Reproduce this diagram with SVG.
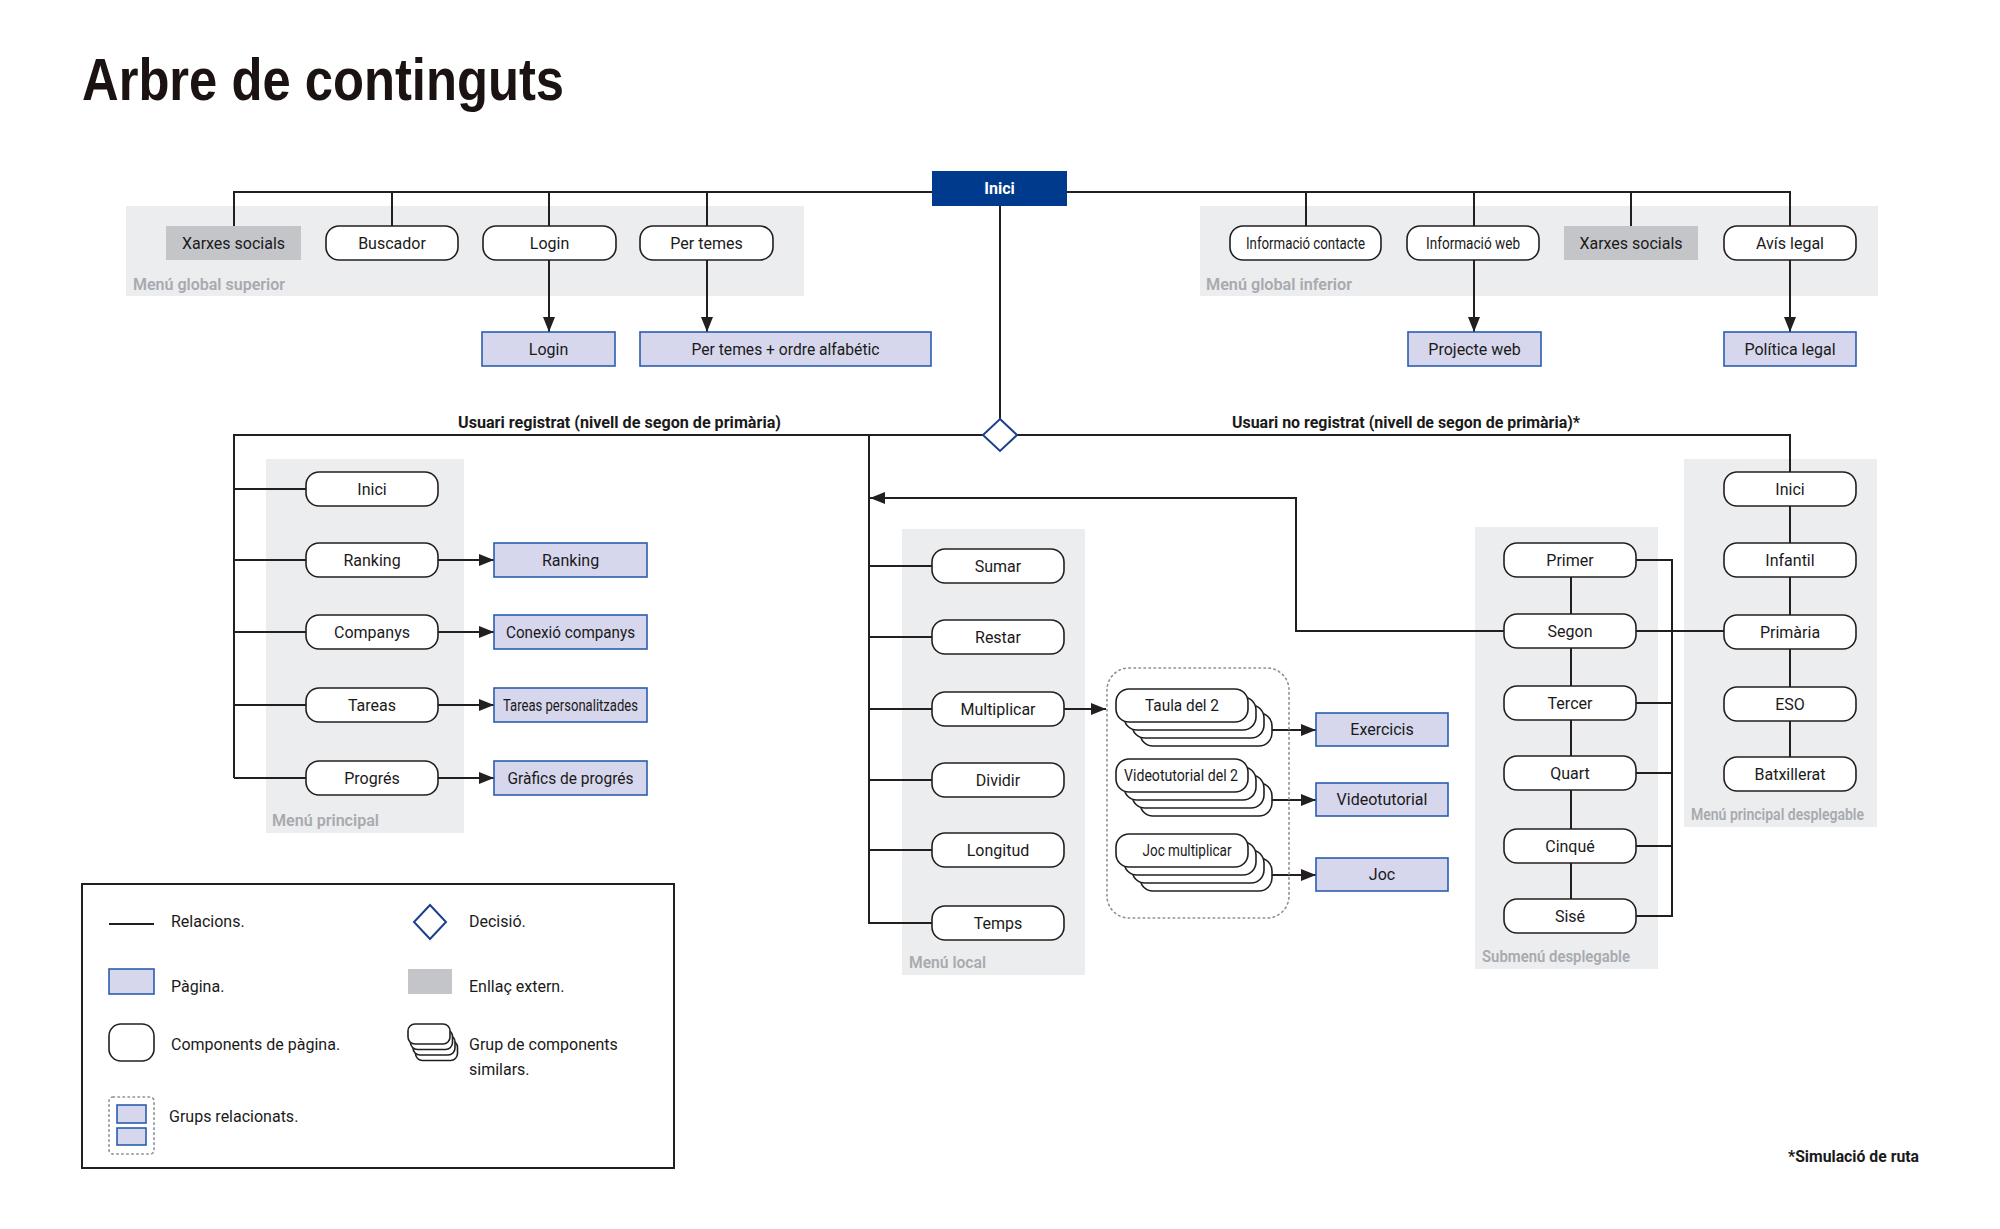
<svg xmlns="http://www.w3.org/2000/svg" width="2000" height="1229" viewBox="0 0 2000 1229">
<style>
.c{fill:#fff;stroke:#231f20;stroke-width:1.6}
.p{fill:#d6d6ec;stroke:#2b5db1;stroke-width:1.6}
.x{fill:#c4c5c9}
.g{fill:#ecedef}
.t{font-family:Roboto,'Liberation Sans',sans-serif;font-size:16px;fill:#1a1a1a;text-anchor:middle}
.lt{font-family:Roboto,'Liberation Sans',sans-serif;font-size:16px;fill:#1a1a1a}
.lbl{font-family:Roboto,'Liberation Sans',sans-serif;font-size:16px;font-weight:600;fill:#a8aaae}
.b{font-family:Roboto,'Liberation Sans',sans-serif;font-size:17px;font-weight:700;fill:#1a1a1a}
.ln{stroke:#231f20;stroke-width:2;fill:none}
.ar{stroke:#231f20;stroke-width:2;fill:none;marker-end:url(#ah)}
.dot{fill:none;stroke:#8d8f93;stroke-width:1.6;stroke-dasharray:1.5 3.5;stroke-linecap:round}
.dm{fill:#fff;stroke:#1b3f8f;stroke-width:2}
</style>
<defs>
<marker id="ah" markerUnits="userSpaceOnUse" markerWidth="15" markerHeight="12" refX="15" refY="6" orient="auto">
<path d="M0,0 L15,6 L0,12 z" fill="#231f20"/>
</marker>
</defs>
<rect width="2000" height="1229" fill="#fff"/>
<text x="82" y="100" font-family="'Liberation Sans',Arial,sans-serif" font-size="60" font-weight="700" fill="#1a1311" textLength="482" lengthAdjust="spacingAndGlyphs">Arbre de continguts</text>

<g id="panels">
<rect class="g" x="126" y="206" width="678" height="90"/>
<rect class="g" x="1200" y="206" width="678" height="90"/>
<rect class="g" x="266" y="459" width="198" height="374"/>
<rect class="g" x="902" y="529" width="183" height="446"/>
<rect class="g" x="1475" y="527" width="183" height="442"/>
<rect class="g" x="1684" y="459" width="193" height="368"/>
<text class="lbl" x="133" y="290" textLength="152" lengthAdjust="spacingAndGlyphs">Menú global superior</text>
<text class="lbl" x="1206" y="290" textLength="146" lengthAdjust="spacingAndGlyphs">Menú global inferior</text>
<text class="lbl" x="272" y="826" textLength="107" lengthAdjust="spacingAndGlyphs">Menú principal</text>
<text class="lbl" x="909" y="968" textLength="77" lengthAdjust="spacingAndGlyphs">Menú local</text>
<text class="lbl" x="1482" y="962" textLength="148" lengthAdjust="spacingAndGlyphs">Submenú desplegable</text>
<text class="lbl" x="1691" y="820" textLength="173" lengthAdjust="spacingAndGlyphs">Menú principal desplegable</text>
</g>

<g id="connectors">
<path class="ln" d="M234,226 V192 H1790 V226"/>
<path class="ln" d="M392,192 V226 M549,192 V226 M707,192 V226 M1306,192 V226 M1474,192 V226 M1631,192 V226"/>
<path class="ar" d="M549,260 V332"/>
<path class="ar" d="M707,260 V332"/>
<path class="ar" d="M1474,260 V332"/>
<path class="ar" d="M1790,260 V332"/>
<path class="ln" d="M1000,206 V420"/>
<path class="ln" d="M234,778 V435 H1790 V472"/>
<path class="ln" d="M234,489 H306 M234,560 H306 M234,632 H306 M234,705 H306 M234,778 H306"/>
<path class="ar" d="M438,560 H494"/>
<path class="ar" d="M438,632 H494"/>
<path class="ar" d="M438,705 H494"/>
<path class="ar" d="M438,778 H494"/>
<path class="ln" d="M869,435 V923 H932 M869,566 H932 M869,637 H932 M869,709 H932 M869,780 H932 M869,850 H932"/>
<path class="ar" d="M1064,709 H1106"/>
<path class="ar" d="M1272,730 H1316"/>
<path class="ar" d="M1272,800 H1316"/>
<path class="ar" d="M1272,875 H1316"/>
<path class="ar" d="M1504,631 H1296 V498 H870"/>
<path class="ln" d="M1636,631 H1724"/>
<path class="ln" d="M1571,577 V899"/>
<path class="ln" d="M1790,472 V757"/>
<path class="ln" d="M1636,560 H1672 V916 H1636 M1636,703 H1672 M1636,773 H1672 M1636,846 H1672"/>
</g>

<g id="n-inici"><rect x="932" y="171" width="135" height="35" fill="#003a8c"/><text class="t" x="999.5" y="194" style="fill:#fff;font-weight:700">Inici</text></g>
<g id="n-xarxes1"><rect class="x" x="166" y="226" width="135" height="34"/><text class="t" x="233.5" y="248.5">Xarxes socials</text></g>
<g id="n-buscador"><rect class="c" x="326" y="226" width="132" height="34" rx="13"/><text class="t" x="392" y="248.5">Buscador</text></g>
<g id="n-login"><rect class="c" x="483" y="226" width="133" height="34" rx="13"/><text class="t" x="549.5" y="248.5">Login</text></g>
<g id="n-pertemes"><rect class="c" x="640" y="226" width="133" height="34" rx="13"/><text class="t" x="706.5" y="248.5">Per temes</text></g>
<g id="n-loginpage"><rect class="p" x="482" y="332" width="133" height="34"/><text class="t" x="548.5" y="354.5">Login</text></g>
<g id="n-pertemespage"><rect class="p" x="640" y="332" width="291" height="34"/><text class="t" x="785.5" y="354.5" textLength="188" lengthAdjust="spacingAndGlyphs">Per temes + ordre alfabétic</text></g>
<g id="n-infocontacte"><rect class="c" x="1230" y="226" width="151" height="34" rx="13"/><text class="t" x="1305.5" y="248.5" textLength="119" lengthAdjust="spacingAndGlyphs">Informació contacte</text></g>
<g id="n-infoweb"><rect class="c" x="1407" y="226" width="132" height="34" rx="13"/><text class="t" x="1473" y="248.5" textLength="94" lengthAdjust="spacingAndGlyphs">Informació web</text></g>
<g id="n-xarxes2"><rect class="x" x="1564" y="226" width="134" height="34"/><text class="t" x="1631" y="248.5">Xarxes socials</text></g>
<g id="n-avis"><rect class="c" x="1724" y="226" width="132" height="34" rx="13"/><text class="t" x="1790" y="248.5">Avís legal</text></g>
<g id="n-projecte"><rect class="p" x="1408" y="332" width="133" height="34"/><text class="t" x="1474.5" y="354.5">Projecte web</text></g>
<g id="n-politica"><rect class="p" x="1724" y="332" width="132" height="34"/><text class="t" x="1790" y="354.5">Política legal</text></g>

<g id="n-decisio"><polygon class="dm" points="1000,419 1017,435 1000,451 983,435"/></g>
<text class="b" x="458" y="428" textLength="323" lengthAdjust="spacingAndGlyphs">Usuari registrat (nivell de segon de primària)</text>
<text class="b" x="1232" y="428" textLength="348" lengthAdjust="spacingAndGlyphs">Usuari no registrat (nivell de segon de primària)*</text>

<g id="n-l-inici"><rect class="c" x="306" y="472" width="132" height="34" rx="13"/><text class="t" x="372" y="494.5">Inici</text></g>
<g id="n-l-ranking"><rect class="c" x="306" y="543" width="132" height="34" rx="13"/><text class="t" x="372" y="565.5">Ranking</text></g>
<g id="n-l-companys"><rect class="c" x="306" y="615" width="132" height="34" rx="13"/><text class="t" x="372" y="637.5">Companys</text></g>
<g id="n-l-tareas"><rect class="c" x="306" y="688" width="132" height="34" rx="13"/><text class="t" x="372" y="710.5">Tareas</text></g>
<g id="n-l-progres"><rect class="c" x="306" y="761" width="132" height="34" rx="13"/><text class="t" x="372" y="783.5">Progrés</text></g>
<g id="n-p-ranking"><rect class="p" x="494" y="543" width="153" height="34"/><text class="t" x="570.5" y="565.5">Ranking</text></g>
<g id="n-p-conexio"><rect class="p" x="494" y="615" width="153" height="34"/><text class="t" x="570.5" y="637.5" textLength="129" lengthAdjust="spacingAndGlyphs">Conexió companys</text></g>
<g id="n-p-tareas"><rect class="p" x="494" y="688" width="153" height="34"/><text class="t" x="570.5" y="710.5" textLength="135" lengthAdjust="spacingAndGlyphs">Tareas personalitzades</text></g>
<g id="n-p-grafics"><rect class="p" x="494" y="761" width="153" height="34"/><text class="t" x="570.5" y="783.5" textLength="126" lengthAdjust="spacingAndGlyphs">Gràfics de progrés</text></g>

<g id="n-sumar"><rect class="c" x="932" y="549" width="132" height="34" rx="13"/><text class="t" x="998" y="571.5">Sumar</text></g>
<g id="n-restar"><rect class="c" x="932" y="620" width="132" height="34" rx="13"/><text class="t" x="998" y="642.5">Restar</text></g>
<g id="n-multiplicar"><rect class="c" x="932" y="692" width="132" height="34" rx="13"/><text class="t" x="998" y="714.5">Multiplicar</text></g>
<g id="n-dividir"><rect class="c" x="932" y="763" width="132" height="34" rx="13"/><text class="t" x="998" y="785.5">Dividir</text></g>
<g id="n-longitud"><rect class="c" x="932" y="833" width="132" height="34" rx="13"/><text class="t" x="998" y="855.5">Longitud</text></g>
<g id="n-temps"><rect class="c" x="932" y="906" width="132" height="34" rx="13"/><text class="t" x="998" y="928.5">Temps</text></g>

<g id="n-grup"><rect class="dot" x="1107" y="668" width="182" height="250" rx="22"/></g>
<g id="n-taula">
<rect class="c" x="1140" y="713" width="132" height="33" rx="13"/><rect class="c" x="1132" y="705" width="132" height="33" rx="13"/><rect class="c" x="1124" y="697" width="132" height="33" rx="13"/><rect class="c" x="1116" y="689" width="132" height="33" rx="13"/>
<text class="t" x="1182" y="711" textLength="74" lengthAdjust="spacingAndGlyphs">Taula del 2</text></g>
<g id="n-videotut">
<rect class="c" x="1140" y="783" width="132" height="33" rx="13"/><rect class="c" x="1132" y="775" width="132" height="33" rx="13"/><rect class="c" x="1124" y="767" width="132" height="33" rx="13"/><rect class="c" x="1116" y="759" width="132" height="33" rx="13"/>
<text class="t" x="1181" y="781" textLength="114" lengthAdjust="spacingAndGlyphs">Videotutorial del 2</text></g>
<g id="n-joc">
<rect class="c" x="1140" y="858" width="132" height="33" rx="13"/><rect class="c" x="1132" y="850" width="132" height="33" rx="13"/><rect class="c" x="1124" y="842" width="132" height="33" rx="13"/><rect class="c" x="1116" y="834" width="132" height="33" rx="13"/>
<text class="t" x="1187" y="856" textLength="89" lengthAdjust="spacingAndGlyphs">Joc multiplicar</text></g>
<g id="n-exercicis"><rect class="p" x="1316" y="713" width="132" height="33"/><text class="t" x="1382" y="735">Exercicis</text></g>
<g id="n-videotutpage"><rect class="p" x="1316" y="783" width="132" height="33"/><text class="t" x="1382" y="805">Videotutorial</text></g>
<g id="n-jocpage"><rect class="p" x="1316" y="858" width="132" height="33"/><text class="t" x="1382" y="880">Joc</text></g>

<g id="n-primer"><rect class="c" x="1504" y="543" width="132" height="34" rx="13"/><text class="t" x="1570" y="565.5">Primer</text></g>
<g id="n-segon"><rect class="c" x="1504" y="614" width="132" height="34" rx="13"/><text class="t" x="1570" y="636.5">Segon</text></g>
<g id="n-tercer"><rect class="c" x="1504" y="686" width="132" height="34" rx="13"/><text class="t" x="1570" y="708.5">Tercer</text></g>
<g id="n-quart"><rect class="c" x="1504" y="756" width="132" height="34" rx="13"/><text class="t" x="1570" y="778.5">Quart</text></g>
<g id="n-cinque"><rect class="c" x="1504" y="829" width="132" height="34" rx="13"/><text class="t" x="1570" y="851.5">Cinqué</text></g>
<g id="n-sise"><rect class="c" x="1504" y="899" width="132" height="34" rx="13"/><text class="t" x="1570" y="921.5">Sisé</text></g>

<g id="n-r-inici"><rect class="c" x="1724" y="472" width="132" height="34" rx="13"/><text class="t" x="1790" y="494.5">Inici</text></g>
<g id="n-infantil"><rect class="c" x="1724" y="543" width="132" height="34" rx="13"/><text class="t" x="1790" y="565.5">Infantil</text></g>
<g id="n-primaria"><rect class="c" x="1724" y="615" width="132" height="34" rx="13"/><text class="t" x="1790" y="637.5">Primària</text></g>
<g id="n-eso"><rect class="c" x="1724" y="687" width="132" height="34" rx="13"/><text class="t" x="1790" y="709.5">ESO</text></g>
<g id="n-batxillerat"><rect class="c" x="1724" y="757" width="132" height="34" rx="13"/><text class="t" x="1790" y="779.5">Batxillerat</text></g>

<g id="legend">
<rect x="82" y="884" width="592" height="284" fill="none" stroke="#231f20" stroke-width="2"/>
<line class="ln" x1="109" y1="924" x2="154" y2="924"/>
<text class="lt" x="171" y="927">Relacions.</text>
<polygon class="dm" points="430,905 446,922 430,939 414,922"/>
<text class="lt" x="469" y="927">Decisió.</text>
<rect class="p" x="109" y="969" width="45" height="25"/>
<text class="lt" x="171" y="992">Pàgina.</text>
<rect class="x" x="408" y="969" width="44" height="25"/>
<text class="lt" x="469" y="992">Enllaç extern.</text>
<rect class="c" x="109" y="1024" width="45" height="37" rx="12"/>
<text class="lt" x="171" y="1050">Components de pàgina.</text>
<rect class="c" x="415.5" y="1040.5" width="42" height="20" rx="7"/>
<rect class="c" x="413" y="1035" width="42" height="20" rx="7"/>
<rect class="c" x="410.5" y="1029.5" width="42" height="20" rx="7"/>
<rect class="c" x="408" y="1024" width="42" height="20" rx="7"/>
<text class="lt" x="469" y="1050">Grup de components</text>
<text class="lt" x="469" y="1075">similars.</text>
<rect class="dot" x="109" y="1097" width="45" height="57" rx="4"/>
<rect class="p" x="117" y="1105" width="29" height="18"/>
<rect class="p" x="117" y="1128" width="29" height="17"/>
<text class="lt" x="169" y="1122">Grups relacionats.</text>
</g>
<text class="b" x="1788" y="1162" textLength="131" lengthAdjust="spacingAndGlyphs">*Simulació de ruta</text>
</svg>
